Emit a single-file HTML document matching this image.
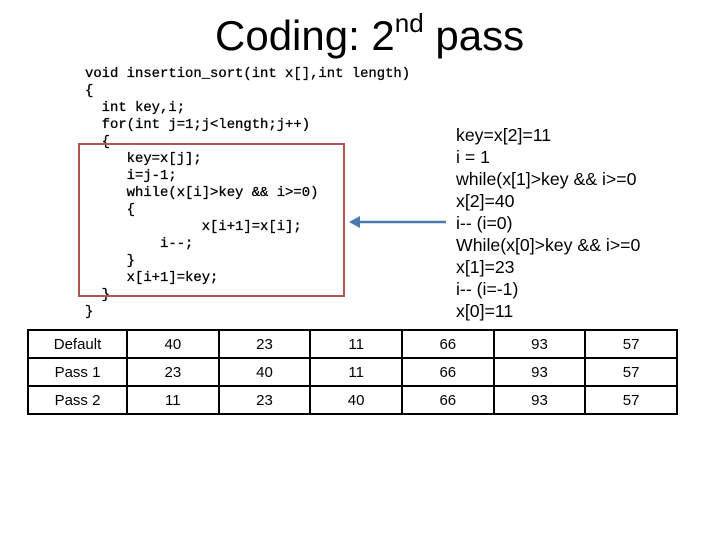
<!DOCTYPE html>
<html><head><style>
body{margin:0;width:720px;height:540px;background:#fff;position:relative;overflow:hidden;font-family:"Liberation Sans",sans-serif}
.t{position:absolute;white-space:pre}
.code{font-family:"Liberation Mono",monospace;font-size:13.9px;line-height:17px;left:85px;top:66px;-webkit-text-stroke:0.3px #000}
.r{font-size:17.7px;line-height:22px;left:456px;top:124px}
table{position:absolute;left:27px;top:329px;border-collapse:collapse;width:651px;table-layout:fixed}
td{border:2px solid #000;height:26px;text-align:center;font-size:15px;padding:0}
</style></head><body>
<div class="t" style="left:215px;top:8px;font-size:42px">Coding: 2<sup style="font-size:26px;vertical-align:18px">nd</sup> pass</div>
<div class="t code">void insertion_sort(int x[],int length)
{
  int key,i;
  for(int j=1;j&lt;length;j++)
  {
     key=x[j];
     i=j-1;
     while(x[i]&gt;key &amp;&amp; i&gt;=0)
     {
              x[i+1]=x[i];
         i--;
     }
     x[i+1]=key;
  }
}</div>
<div style="position:absolute;left:78px;top:143px;width:263px;height:150px;border:2px solid #b05555"></div>
<svg style="position:absolute;left:0;top:0" width="720" height="540">
<line x1="446" y1="222" x2="358" y2="222" stroke="#4a7ab0" stroke-width="2.5"/>
<polygon points="349,222 360,216 360,228" fill="#4a7ab0"/>
</svg>
<div class="t r">key=x[2]=11
i = 1
while(x[1]&gt;key &amp;&amp; i&gt;=0
x[2]=40
i-- (i=0)
While(x[0]&gt;key &amp;&amp; i&gt;=0
x[1]=23
i-- (i=-1)
x[0]=11</div>
<table>
<colgroup><col style="width:99px"><col><col><col><col><col><col></colgroup>
<tr><td>Default</td><td>40</td><td>23</td><td>11</td><td>66</td><td>93</td><td>57</td></tr>
<tr><td>Pass 1</td><td>23</td><td>40</td><td>11</td><td>66</td><td>93</td><td>57</td></tr>
<tr><td>Pass 2</td><td>11</td><td>23</td><td>40</td><td>66</td><td>93</td><td>57</td></tr>
</table>
</body></html>
